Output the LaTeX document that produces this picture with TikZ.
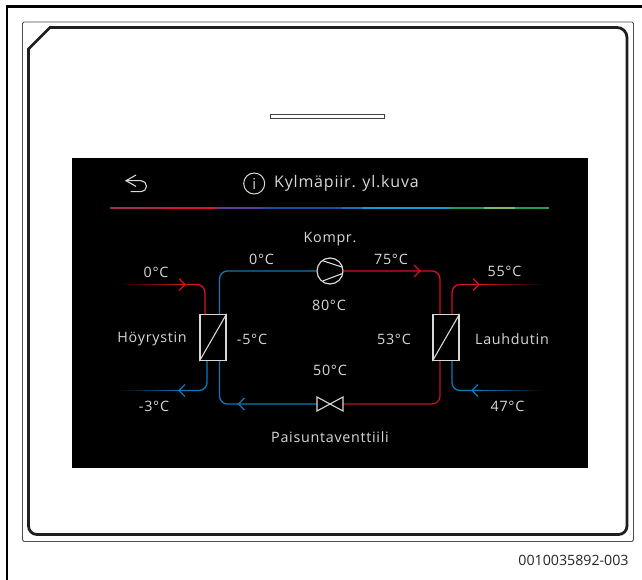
\documentclass[tikz,border=0pt]{standalone}
\usepackage{fontspec}
\setmainfont{Open Sans}
\newfontfamily\spaced[LetterSpace=5]{Open Sans}
\usetikzlibrary{calc}
\definecolor{pipered}{HTML}{D8101F}
\definecolor{darkred}{HTML}{B8141F}
\definecolor{pipeblue}{HTML}{0F78B4}
\definecolor{txt}{HTML}{D8D8D8}
\definecolor{b1}{HTML}{A32A50}\definecolor{b2}{HTML}{A8283F}\definecolor{b3}{HTML}{D9152A}\definecolor{b4}{HTML}{5F3A96}\definecolor{b5}{HTML}{1D4C9C}\definecolor{b6}{HTML}{1A6CB0}\definecolor{b7}{HTML}{0F9BCB}\definecolor{b8}{HTML}{1C9A60}\definecolor{b9}{HTML}{7DBB6C}\definecolor{b10}{HTML}{239A50}
\tikzset{
  pipe/.style={line width=1.3pt,rounded corners=8pt},
  chev/.style={line width=1.1pt},
  sym/.style={draw=txt,line width=1.2pt},
  lab/.style={text=txt,font=\spaced\fontsize{14.3}{16}\selectfont,inner sep=0pt,anchor=center},
  hx/.style={draw=txt,line width=1.2pt,minimum width=26pt,minimum height=46pt,inner sep=0pt},
}
\newcommand{\chevr}[2]{\draw[chev,#2] ($(#1)+(-6,-6)$) -- (#1) -- ($(#1)+(-6,6)$);}
\newcommand{\chevl}[2]{\draw[chev,#2] ($(#1)+(6,-6)$) -- (#1) -- ($(#1)+(6,6)$);}
% fade: from black at x=#1 to full colour at x=#2, on row y=#3, colour #4
\newcommand{\fade}[4]{\foreach \k in {0,...,24}{
  \pgfmathsetmacro{\xa}{#1+(#2-(#1))*\k/25}
  \pgfmathsetmacro{\xb}{#1+(#2-(#1))*(\k+1.15)/25}
  \pgfmathsetmacro{\pc}{\k*4+2}
  \fill[#4!\pc!black] (\xa,#3-0.65) rectangle (\xb,#3+0.65);}}
\begin{document}
\begin{tikzpicture}[x=1pt,y=-1pt]
\useasboundingbox (0,0) rectangle (642,580);
\fill[white] (0,0) rectangle (642,580);
% outer frame
\draw[black,line width=2.1pt] (7,580) -- (7,6.5) -- (642,6.5);
% inner frame
\draw[black!70,line width=0.9pt,rounded corners=1.5pt] (22.5,22) rectangle (633.5,541.5);
% device edge
\draw[black!88,line width=2.8pt] (50,27.5) -- (617,27.5) arc[start angle=-90,end angle=0,radius=10] -- (627,526) arc[start angle=0,end angle=90,radius=8.5] -- (37,534.5) arc[start angle=90,end angle=180,radius=8.5] -- (28.5,49) -- cycle;
% slot
\draw[black!75,line width=1.3pt,fill=white] (270.5,114.5) rectangle (384.5,118.5);
% screen
\fill[black] (72,158) rectangle (588,468);
% colour bar
\foreach \a/\b/\c in {110/143/b1,143/165/b2,165/216/b3,216/262/b4,262/342/b5,342/362/b6,362/450/b7,450/484/b8,484/515/b9,515/549/b10}
  \fill[\c] (\a,206.8) rectangle (\b,209.2);
% header
\node[lab,font=\spaced\fontsize{16}{18}\selectfont,anchor=west] (title) at (274,183.5) {Kylmäpiir. yl.kuva};
\node[sym,circle,minimum size=21pt,inner sep=0pt,line width=1pt] (info) at (254.2,183.5) {};
\node[lab,font=\fontsize{15}{16}\selectfont] (i) at (254.2,183.5) {i};
\draw[txt,line width=1.1pt] (126,180.7) -- (141,180.7) arc[start angle=-90,end angle=90,radius=5.5] -- (130.5,191.7);
\draw[txt,line width=1.1pt] (136,175) -- (126,180.7) -- (136,186.4);
% components
\node[hx] (evap) at (213,337.5) {};
\node[hx] (cond) at (446,337.5) {};
\draw[txt,line width=1.1pt] (evap.south west) -- (evap.north east);
\draw[txt,line width=1.1pt] (cond.south west) -- (cond.north east);
\node[sym,circle,minimum size=26pt,inner sep=0pt] (comp) at (330,271) {};
\coordinate (valve) at (330,404);
\coordinate (vw) at (317,404);
\coordinate (ve) at (343,404);
% pipes
\draw[pipe,pipeblue] (219.5,314) -- (219.5,271) -- (comp.west);
\draw[pipe,pipered] (comp.east) -- (440,271) -- (440,314);
\draw[pipe,pipered] (205,314) -- (205,284.5) -- (180,284.5);
\fade{118}{180}{284.5}{pipered}
\draw[pipe,pipered] (452,314) -- (452,284.5) -- (482,284.5);
\fade{545}{482}{284.5}{pipered}
\draw[pipe,pipeblue] (207,361) -- (207,390.5) -- (180,390.5);
\fade{118}{180}{390.5}{pipeblue}
\draw[pipe,pipeblue] (452,361) -- (452,390.5) -- (482,390.5);
\fade{545}{482}{390.5}{pipeblue}
\draw[pipe,darkred] (440,361) -- (440,404) -- (ve);
\draw[pipe,pipeblue] (219.5,361) -- (219.5,404) -- (vw);
% chevrons
\coordinate (c1) at (185,284.5);
\coordinate (c2) at (179,390.5);
\coordinate (c3) at (238.5,404);
\coordinate (c4) at (420,271);
\coordinate (c5) at (479,284.5);
\coordinate (c6) at (472,390.5);
\chevr{c1}{pipered}
\chevl{c2}{pipeblue}
\chevl{c3}{pipeblue}
\chevr{c4}{pipered}
\chevr{c5}{pipered}
\chevl{c6}{pipeblue}
% compressor inner lines
\draw[sym,line width=1.1pt] (322.7,260.7) -- (342.7,267.3);
\draw[sym,line width=1.1pt] (322.7,281) -- (342.5,273.5);
% valve
\draw[sym,line join=miter,line width=1.1pt] (valve) -- (317,397) -- (317,411) -- cycle;
\draw[sym,line join=miter,line width=1.1pt] (valve) -- (343,397) -- (343,411) -- cycle;
% labels
\node[lab] (kompr) at (330,239.5) {Kompr.};
\node[lab] (t0a) at (261.5,259) {0°C};
\node[lab] (t75) at (391,259) {75°C};
\node[lab] (t80) at (329,305.5) {80°C};
\node[lab] (t0b) at (156,272.5) {0°C};
\node[lab] (t55) at (504.5,271.5) {55°C};
\node[lab] (evl) at (152,339) {Höyrystin};
\node[lab] (tm5) at (252,339) {-5°C};
\node[lab] (t53) at (394,339) {53°C};
\node[lab] (col) at (512,339) {Lauhdutin};
\node[lab] (t50) at (330,370.5) {50°C};
\node[lab] (tm3) at (154,406.5) {-3°C};
\node[lab] (t47) at (507.5,406.5) {47°C};
\node[lab] (pais) at (330,437.5) {Paisuntaventtiili};
\node[text=black!85,font=\fontsize{14.2}{16}\selectfont,inner sep=0pt] (code) at (573.5,560.5) {0010035892-003};
\end{tikzpicture}
\end{document}
